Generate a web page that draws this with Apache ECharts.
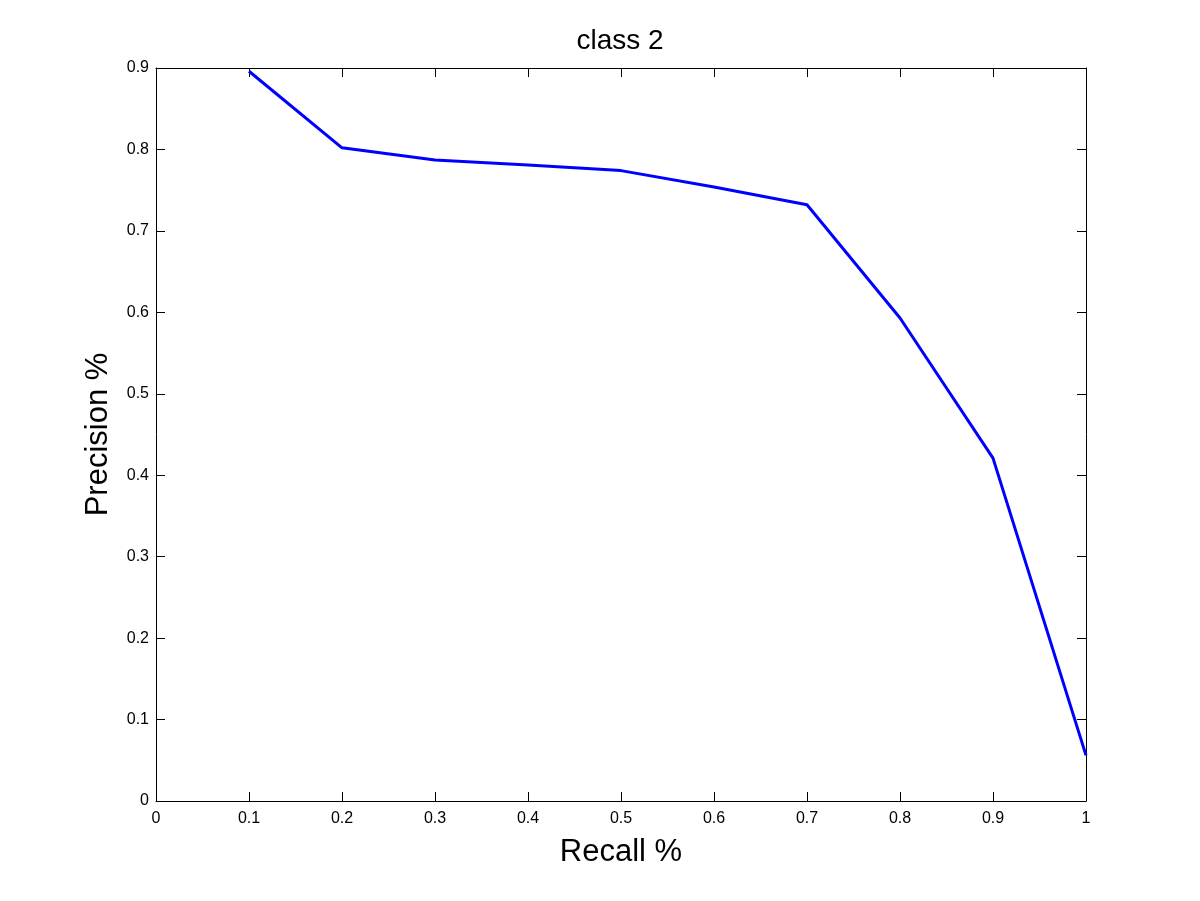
<!DOCTYPE html>
<html>
<head>
<meta charset="utf-8">
<script src="https://cdn.jsdelivr.net/npm/echarts@6/dist/echarts.min.js"></script>
<style>
html,body{margin:0;padding:0;background:#fff;}
#chart{width:1200px;height:901px;}
</style>
</head>
<body>
<div id="chart"></div>
<script>
var recall = [0.1, 0.2, 0.3, 0.4, 0.5, 0.6, 0.7, 0.8, 0.9, 1.0];
var precision = [0.896, 0.802, 0.787, 0.781, 0.774, 0.754, 0.732, 0.593, 0.421, 0.056];
var titleText = 'class 2';
var xName = 'Recall %';
var yName = 'Precision %';

var pts = recall.map(function (r, i) { return [r, precision[i]]; });
var font = 'Liberation Sans, Arial, Helvetica, sans-serif';

var chart = echarts.init(document.getElementById('chart'), null, {renderer: 'canvas'});
var axisCommon = {
  splitLine: {show: false},
  axisLine: {show: true, onZero: false, lineStyle: {color: '#000', width: 1}},
  axisTick: {show: true, inside: true, length: 9, lineStyle: {color: '#000', width: 1}}
};
chart.setOption({
  animation: false,
  backgroundColor: '#fff',
  title: {
    text: titleText, left: 620, textAlign: 'center', top: 27, padding: 0,
    textStyle: {fontFamily: font, fontSize: 28, fontWeight: 'normal', color: '#000'}
  },
  grid: {left: 156, right: 114, top: 68, bottom: 100, containLabel: false},
  xAxis: [
    Object.assign({
      type: 'value', position: 'bottom', min: 0, max: 1, interval: 0.1,
      name: xName, nameLocation: 'middle', nameGap: 36,
      nameTextStyle: {fontFamily: font, fontSize: 31, color: '#000'},
      axisLabel: {fontFamily: font, fontSize: 16, color: '#000', margin: 10}
    }, axisCommon),
    Object.assign({
      type: 'value', position: 'top', min: 0, max: 1, interval: 0.1,
      axisLabel: {show: false}
    }, axisCommon)
  ],
  yAxis: [
    Object.assign({
      type: 'value', position: 'left', min: 0, max: 0.9, interval: 0.1,
      name: yName, nameLocation: 'middle', nameGap: 42, nameRotate: 90,
      nameTextStyle: {fontFamily: font, fontSize: 31, color: '#000'},
      axisLabel: {fontFamily: font, fontSize: 16, color: '#000', margin: 7}
    }, axisCommon),
    Object.assign({
      type: 'value', position: 'right', min: 0, max: 0.9, interval: 0.1,
      axisLabel: {show: false}
    }, axisCommon)
  ],
  series: [{
    type: 'line', data: pts, xAxisIndex: 0, yAxisIndex: 0,
    showSymbol: false, symbol: 'none',
    lineStyle: {color: '#0000ff', width: 3},
    clip: false
  }]
});
</script>
</body>
</html>
